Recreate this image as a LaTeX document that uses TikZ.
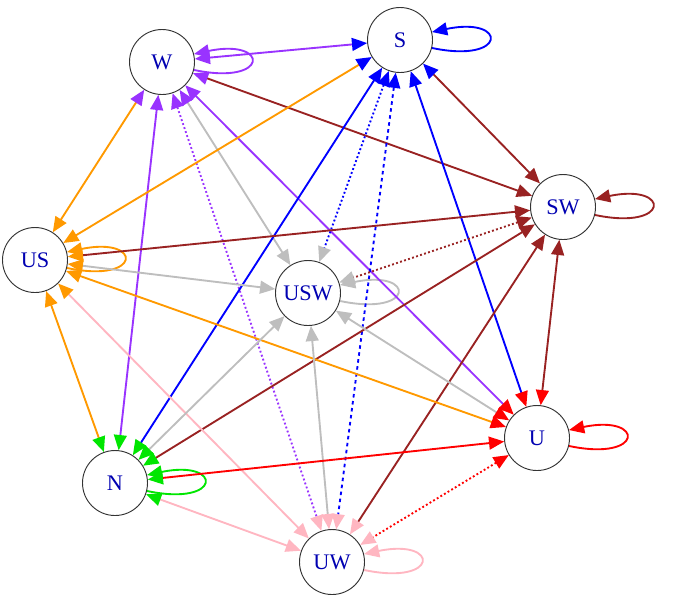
\documentclass[tikz,border=0pt]{standalone}
\usepackage{fontspec}
\setmainfont{Liberation Serif}
\usetikzlibrary{arrows.meta}
\definecolor{cW}{RGB}{153,51,255}
\definecolor{cS}{RGB}{0,0,255}
\definecolor{cSW}{RGB}{153,34,34}
\definecolor{cUS}{RGB}{255,153,0}
\definecolor{cUSW}{RGB}{190,190,190}
\definecolor{cU}{RGB}{255,0,0}
\definecolor{cN}{RGB}{0,230,0}
\definecolor{cUW}{RGB}{255,182,193}
\begin{document}
\begin{tikzpicture}[x=0.03cm,y=-0.03cm,
  vtx/.style={circle,draw=black!80,thick,fill=white,minimum size=1.95cm,inner sep=0pt,font=\fontsize{19}{21}\selectfont,text=blue!70!black},
  edg/.style={line width=1.6pt},
  lp/.style={line width=1.6pt}]
\useasboundingbox (0,0) rectangle (685,602);
\newcommand\ed[4][]{\draw[edg,#4,#1,{Triangle[length=13pt,width=11pt,color=c#2]}-{Triangle[length=13pt,width=11pt,color=c#3]}] (#2) -- (#3);}
\node[vtx] (W) at (162,62) {W};
\node[vtx] (S) at (400,40) {S};
\node[vtx] (SW) at (563,207) {SW};
\node[vtx] (US) at (35,260) {US};
\node[vtx] (USW) at (308,293) {USW};
\node[vtx] (U) at (537,438) {U};
\node[vtx] (N) at (115,483) {N};
\node[vtx] (UW) at (332,562) {UW};
% loops
\foreach \v in {W,S,SW,US,USW,U,N,UW}{
  \draw[lp,c\v,-{Triangle[length=13pt,width=11pt]}] (\v.-14) .. controls ([shift={(75,24)}]\v.east) and ([shift={(75,-24)}]\v.east) .. (\v.14);
}
\ed{W}{S}{cW}
\ed{W}{SW}{cSW}
\ed{W}{US}{cUS}
\ed{W}{USW}{cUSW}
\ed{W}{U}{cW}
\ed{W}{N}{cW}
\ed[dotted]{W}{UW}{cW}
\ed{S}{SW}{cSW}
\ed{S}{US}{cUS}
\ed[dotted]{S}{USW}{cS}
\ed{S}{U}{cS}
\ed{S}{N}{cS}
\ed[dashed]{S}{UW}{cS}
\ed{SW}{US}{cSW}
\ed[dotted]{SW}{USW}{cSW}
\ed{SW}{U}{cSW}
\ed{SW}{N}{cSW}
\ed{SW}{UW}{cSW}
\ed{US}{USW}{cUSW}
\ed{US}{U}{cUS}
\ed{US}{N}{cUS}
\ed{US}{UW}{cUW}
\ed{USW}{U}{cUSW}
\ed{USW}{N}{cUSW}
\ed{USW}{UW}{cUSW}
\ed{U}{N}{cU}
\ed[dotted]{U}{UW}{cU}
\ed{N}{UW}{cUW}
\end{tikzpicture}
\end{document}
